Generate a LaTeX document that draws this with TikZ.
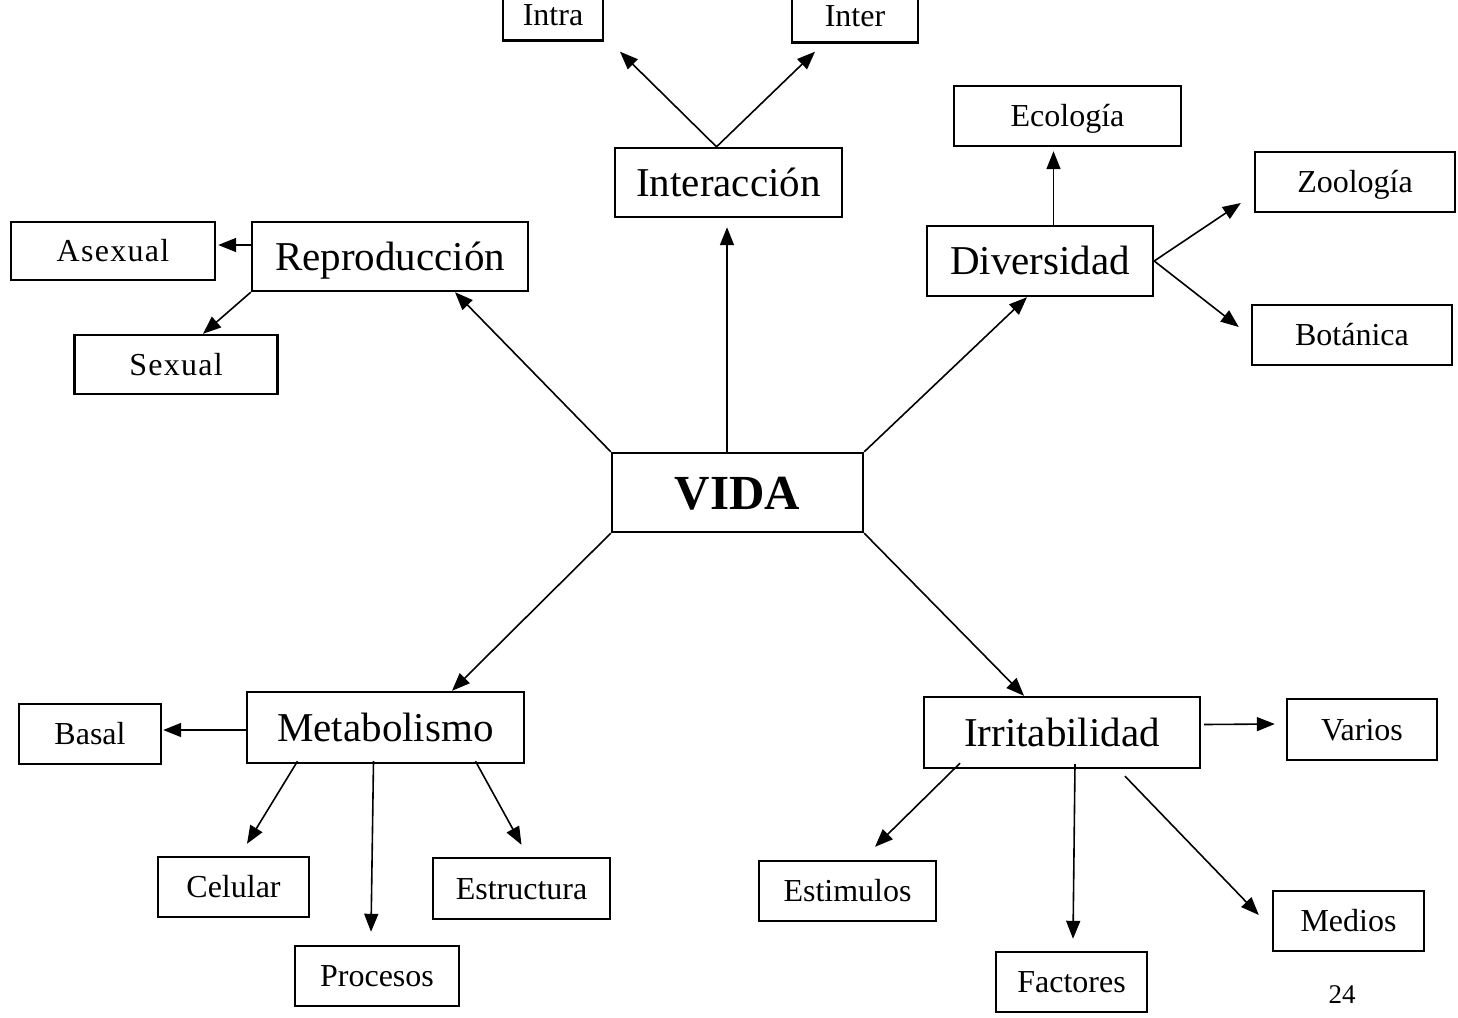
\documentclass[tikz,border=0pt]{standalone}
\usepackage{fontspec}
\setmainfont{Liberation Serif}
\usetikzlibrary{arrows.meta}

\begin{document}
\begin{tikzpicture}[x=1pt,y=-1pt,
  box/.style={draw,line width=2.4pt,rectangle,inner sep=0pt,
    text depth=0pt,minimum width=#1},
  bigbox/.style={box=#1,minimum height=70pt,text height=27pt,
    font=\fontsize{41}{41}\selectfont},
  smallbox/.style={box=#1,minimum height=60pt,text height=21pt,
    font=\fontsize{32}{32}\selectfont},
  spaced/.style={font=\fontsize{32}{32}\selectfont\addfontfeature{LetterSpace=4}},
  link/.style={line width=1.6pt,-{Triangle[length=18pt,width=14pt]}}]
  \useasboundingbox (0,0) rectangle (1458,1017);

  % centre
  \node[box=251pt,minimum height=79pt,text height=33pt,
    font=\fontsize{49}{49}\selectfont\bfseries] (vida) at (737.5,492.5) {VIDA};

  % first level
  \node[bigbox=227pt,minimum height=69pt] (interaccion) at (728.5,182.5) {Interacción};
  \node[bigbox=276pt,minimum height=69pt] (reproduccion) at (390,256.5) {Reproducción};
  \node[bigbox=226pt] (diversidad) at (1040,261) {Diversidad};
  \node[bigbox=277pt,minimum height=71pt] (metabolismo) at (385.5,727.5) {Metabolismo};
  \node[bigbox=276pt,minimum height=71pt] (irritabilidad) at (1062,732.5) {Irritabilidad};

  % second level
  \node[smallbox=100pt,minimum height=52pt] (intra) at (553,14.5) {Intra};
  \node[smallbox=126pt,minimum height=54pt] (inter) at (855,15.5) {Inter};
  \node[smallbox=227pt] (ecologia) at (1067.5,116) {Ecología};
  \node[smallbox=200pt] (zoologia) at (1355,182) {Zoología};
  \node[smallbox=200pt] (botanica) at (1352,335) {Botánica};
  \node[smallbox=204pt,minimum height=58pt,spaced] (asexual) at (113,251) {Asexual};
  \node[smallbox=203pt,minimum height=59pt,spaced] (sexual) at (176,364.5) {Sexual};
  \node[smallbox=142pt] (basal) at (90,734) {Basal};
  \node[smallbox=151pt] (celular) at (233.5,887) {Celular};
  \node[smallbox=164pt] (procesos) at (377,976) {Procesos};
  \node[smallbox=177pt,minimum height=61pt] (estructura) at (521.5,888.5) {Estructura};
  \node[smallbox=150pt,minimum height=61pt] (varios) at (1362,729.5) {Varios};
  \node[smallbox=177pt] (estimulos) at (847.5,891) {Estimulos};
  \node[smallbox=151pt] (factores) at (1071.5,982) {Factores};
  \node[smallbox=151pt] (medios) at (1348.5,921) {Medios};

  % page number
  \node[font=\fontsize{27}{27}\selectfont,inner sep=0pt] (pagina) at (1342,995) {24};

  % from the centre
  \draw[link] (vida.north west) -- ([xshift=65pt]reproduccion.south);
  \draw[link] ([xshift=-10.5pt]vida.north) -- ([xshift=-1.5pt,yshift=-9pt]interaccion.south);
  \draw[link] (vida.north east) -- ([xshift=-13pt]diversidad.south);
  \draw[link] (vida.south west) -- ([xshift=66.5pt]metabolismo.north);
  \draw[link] (vida.south east) -- ([xshift=-38pt]irritabilidad.north);

  % Interacción
  \draw[link] ([xshift=-12pt]interaccion.north) -- ([xshift=67pt,yshift=-10pt]intra.south);
  \draw[link] ([xshift=-12pt]interaccion.north) -- ([xshift=-40pt,yshift=-8pt]inter.south);

  % Diversidad
  \draw[link] ([xshift=13.5pt]diversidad.north) -- ([xshift=-14pt,yshift=-4pt]ecologia.south);
  \draw[link] (diversidad.east) -- ([xshift=-13pt,yshift=-21pt]zoologia.west);
  \draw[link] (diversidad.east) -- ([xshift=-12pt,yshift=8pt]botanica.west);

  % Reproducción
  \draw[link] ([yshift=11.5pt]reproduccion.west) -- ([xshift=2pt,yshift=6pt]asexual.east);
  \draw[link] (reproduccion.south west) -- ([xshift=27pt]sexual.north);

  % Metabolismo
  \draw[link] ([yshift=-2.5pt]metabolismo.west) -- ([xshift=1pt,yshift=4pt]basal.east);
  \draw[link] ([xshift=-88pt,yshift=3pt]metabolismo.south) -- ([xshift=13.5pt,yshift=12pt]celular.north);
  \draw[link] ([xshift=-12pt,yshift=3pt]metabolismo.south) -- ([xshift=-6pt,yshift=13pt]procesos.north);
  \draw[link] ([xshift=90pt,yshift=3pt]metabolismo.south) -- ([yshift=12pt]estructura.north);

  % Irritabilidad
  \draw[link] ([xshift=3pt,yshift=8pt]irritabilidad.east) -- ([xshift=-11pt,yshift=5.5pt]varios.west);
  \draw[link] ([xshift=-102pt,yshift=6pt]irritabilidad.south) -- ([xshift=27.5pt,yshift=13pt]estimulos.north);
  \draw[link] ([xshift=13pt,yshift=5pt]irritabilidad.south) -- ([xshift=1.5pt,yshift=12pt]factores.north);
  \draw[link] ([xshift=63pt,yshift=-7pt]irritabilidad.south) -- ([xshift=-13pt,yshift=6pt]medios.west);
\end{tikzpicture}
\end{document}
